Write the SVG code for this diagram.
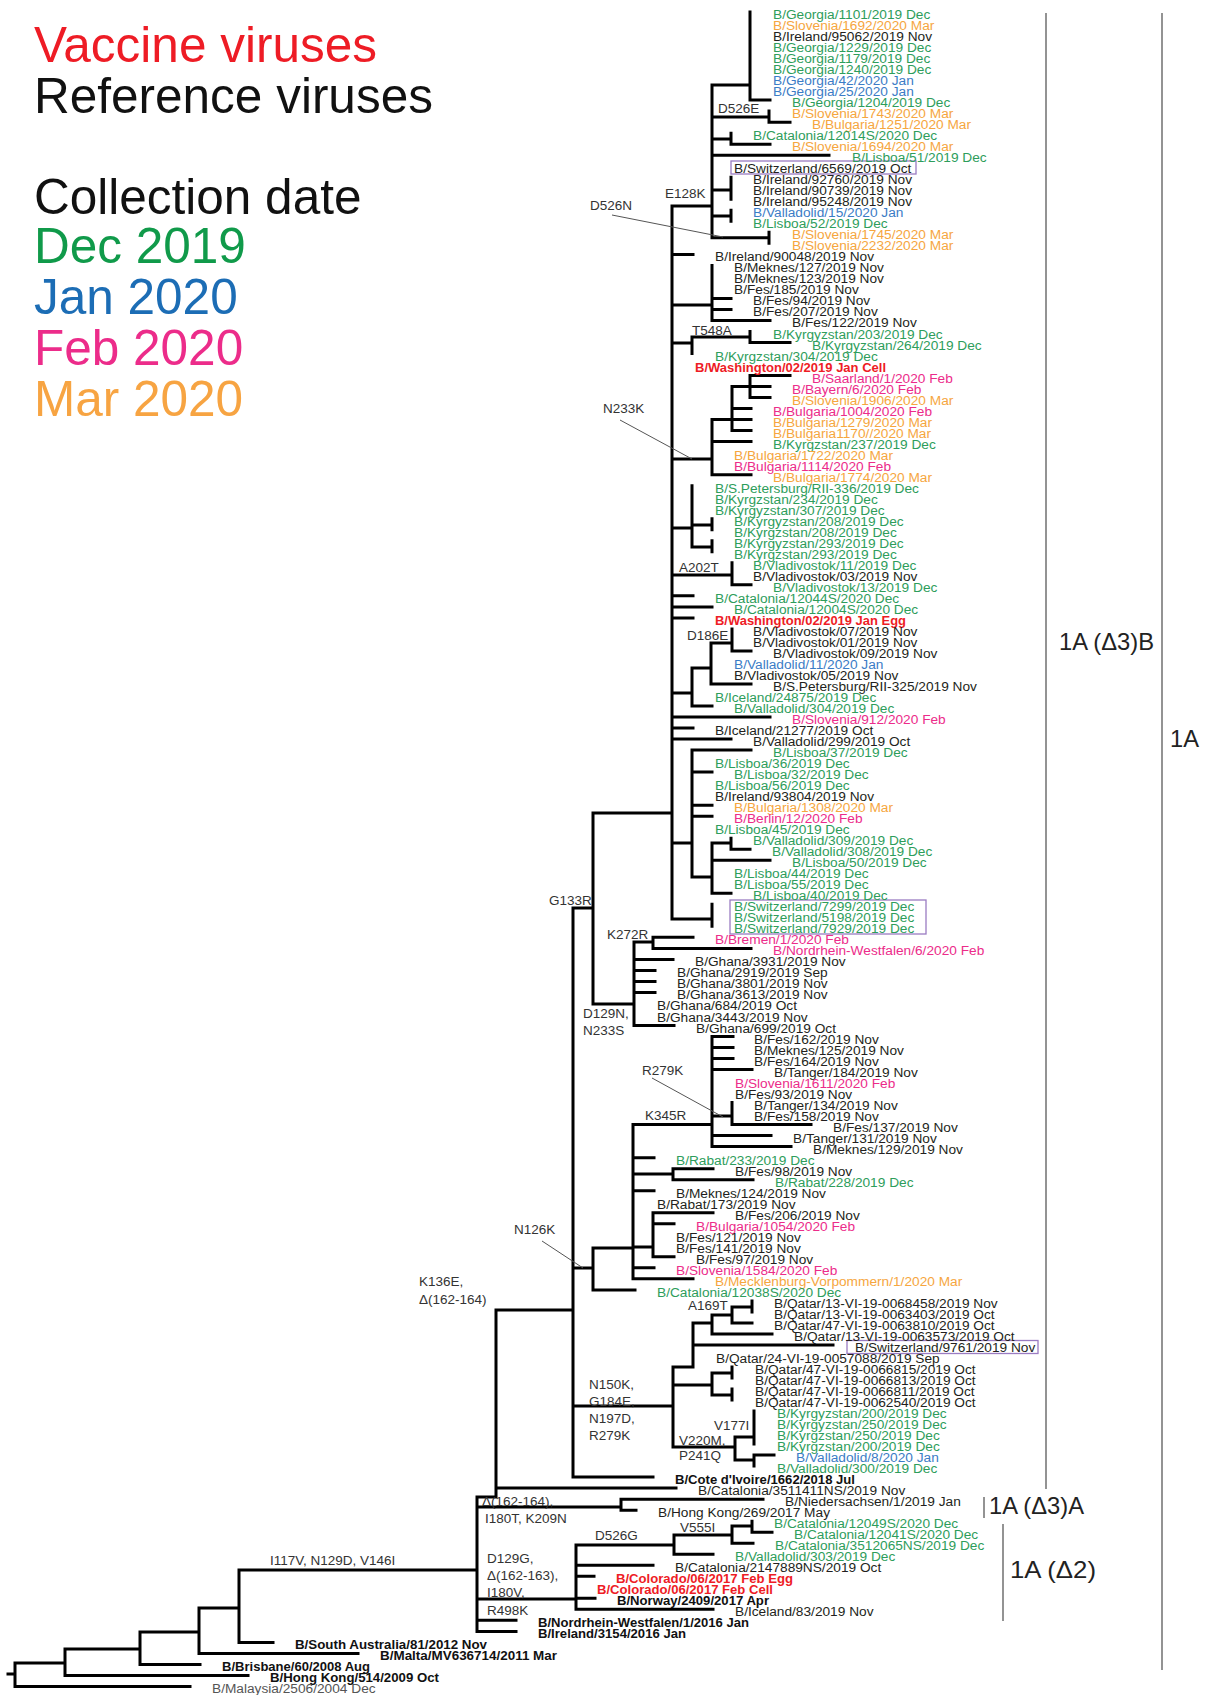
<svg xmlns="http://www.w3.org/2000/svg" width="1205" height="1695" viewBox="0 0 1205 1695">
<style>
text{font-family:"Liberation Sans",Arial,sans-serif}
.t{font-size:13.7px}
.g{fill:#2e9d5b}.o{fill:#f6a63e}.b{fill:#3b7cc6}.p{fill:#ec2c8a}.k{fill:#231f20}.gr{fill:#555}
.r{fill:#ee1c25;font-weight:bold}.kb{fill:#111;font-weight:bold}
.m{font-size:13.5px;fill:#333}
.lg{font-size:49.5px}
.br{font-size:24px;fill:#222}
.tree{fill:none;stroke:#000;stroke-width:3;stroke-linecap:square}
.ptr{stroke:#555;stroke-width:1}
.brk{stroke:#666;stroke-width:1.4}
.box{fill:none;stroke:#9a7cc2;stroke-width:1.3}
</style>
<rect width="1205" height="1695" fill="#fff"/>
<g id="legend">
<text x="34" y="62" class="lg" fill="#ee1c25">Vaccine viruses</text>
<text x="34" y="113" class="lg" fill="#111">Reference viruses</text>
<text x="34" y="214" class="lg" fill="#111">Collection date</text>
<text x="34" y="263" class="lg" fill="#109a4a">Dec 2019</text>
<text x="34" y="314" class="lg" fill="#1c6db5">Jan 2020</text>
<text x="34" y="365" class="lg" fill="#ec2c8a">Feb 2020</text>
<text x="34" y="416" class="lg" fill="#f7a442">Mar 2020</text>
</g>
<g id="connectors">
<path class="tree" d="M750 12V100.1M750 100.1H770M712 85H750M769 111.1V122.2M769 122.2H790M712 117H769M731 133.2V144.2M731 144.2H770M712 139H731M712 155.2H829M731 177.2V199.3M712 190H731M731 210.3V221.3M712 216H731M769 232.3V243.3M712 237.8H769M712 85V237.8M672 206H712
M672 206V919M672 254.4H693M712 265.4V320.4M712 298.4H731M712 309.4H731M712 320.4H770M672 305H712M750 331.5V342.5M750 342.5H790M692 337H750M692 337V353.5M672 343H692
M750 375.5V397.6M750 375.5H790M750 386.5H770M750 397.6H770M732 386.5H750M732 386.5V430.6M732 408.6H751M732 419.6H751M732 430.6H751M712 419.6H732M712 419.6V474.7M712 441.6H751M712 474.7H751M672 459H712
M692 485.7V547M712 518.7V529.8M692 525H712M712 540.8V551.8M692 547H712M672 528H692M732 562.8V584.8M732 584.8H751M672 575H732M672 595.8H693M672 606.9H712M672 617.9H693
M732 628.9V650.9M732 650.9H751M711 643H732M711 643V684M711 684H751M692 668H711M692 668V706M692 706H712M672 693H692M672 717H770M672 728H693M672 739.1H731
M692 750.1V877M692 750.1H751M692 772.1H712M692 805.2H712M692 816.2H712M672 843H692M712 843V893.3M731 838.2V849.2M731 849.2H750M712 843H731M712 860.2H770M712 893.3H731M692 877H712M712 904.3V926.3M672 919H712M593 813H672
M593 813V1004M653 937.3V948.4M653 937.3H693M653 948.4H751M634 942H653M634 942V1025.5M634 959.4H673M634 970.4H655M634 981.4H655M634 992.4H655M634 1025.5H674M593 1004H634M573 908H593
M712 1036.5V1146.6M712 1036.5H733M712 1047.5H733M712 1058.5H733M712 1069.5H752M732 1102.6V1124.6M712 1116H732M732 1124.6H811M712 1135.6H771M712 1146.6H791M633 1124.6H712
M633 1124.6V1278.8M633 1157.7H654M673 1168.7V1179.7M673 1168.7H713M673 1179.7H753M633 1174H673M633 1190.7H654M653 1212.7V1256.8M653 1212.7H713M653 1223.8H674M653 1256.8H674M633 1247H653M633 1267.8H654M633 1278.8H693M593 1248H633M593 1248V1289.9M593 1289.9H635M573 1268H593
M752 1300.9V1311.9M732 1307H752M732 1307V1322.9M732 1322.9H752M712 1315H732M712 1315V1333.9M712 1333.9H772M693 1323H712M693 1323V1367M693 1344.9H833M673 1367H693M732 1367V1378M712 1373H732M732 1389V1400M712 1395H732M712 1373V1395M673 1385H712
M754 1411V1444.1M735 1437H754M754 1455.1V1466.1M754 1455.1H774M735 1460H754M735 1437V1460M673 1447H735M673 1367V1447M573 1406H673
M573 908V1477.1M573 1477.1H653M496 1310H573M496 1310V1497M496 1488.1H676M477 1497H496
M621 1499.2V1510.2M621 1499.2H763M621 1510.2H636M477 1507H621
M752 1521.2V1532.2M752 1532.2H772M732 1526H752M732 1526V1543.2M732 1543.2H753M674 1535H732M674 1535V1554.2M674 1554.2H713M576 1545H674M576 1545V1609.3M576 1565.3H653M576 1576.3H594M576 1598.3H595M576 1609.3H713M477 1599H576
M477 1497V1631.4M477 1620.3H516M477 1631.4H516M239 1570H477M239 1570V1642.4M239 1642.4H273M199 1608H239M199 1608V1653.4M199 1653.4H358M140 1632H199M140 1632V1664.4M140 1664.4H200M65 1649H140M65 1649V1675.4M65 1675.4H248M15 1663H65M15 1663V1686.4M15 1686.4H190M8 1674H15"/>
<path class="ptr" d="M612 215L723 237M620 420L692 459M652 1078L723 1117M542 1241L583 1268"/>
</g>
<g id="mutations">
<text class="m" x="718" y="113">D526E</text>
<text class="m" x="665" y="198">E128K</text>
<text class="m" x="590" y="210">D526N</text>
<text class="m" x="692" y="335">T548A</text>
<text class="m" x="603" y="413">N233K</text>
<text class="m" x="679" y="572">A202T</text>
<text class="m" x="687" y="640">D186E</text>
<text class="m" x="549" y="905">G133R</text>
<text class="m" x="607" y="939">K272R</text>
<text class="m" x="583" y="1018">D129N,</text>
<text class="m" x="583" y="1035">N233S</text>
<text class="m" x="642" y="1075">R279K</text>
<text class="m" x="645" y="1120">K345R</text>
<text class="m" x="514" y="1234">N126K</text>
<text class="m" x="419" y="1286">K136E,</text>
<text class="m" x="419" y="1304">Δ(162-164)</text>
<text class="m" x="688" y="1310">A169T</text>
<text class="m" x="589" y="1389">N150K,</text>
<text class="m" x="589" y="1406">G184E,</text>
<text class="m" x="589" y="1423">N197D,</text>
<text class="m" x="589" y="1440">R279K</text>
<text class="m" x="714" y="1430">V177I</text>
<text class="m" x="679" y="1445">V220M,</text>
<text class="m" x="679" y="1460">P241Q</text>
<text class="m" x="482" y="1506">Δ(162-164),</text>
<text class="m" x="485" y="1523">I180T, K209N</text>
<text class="m" x="680" y="1532">V555I</text>
<text class="m" x="595" y="1540">D526G</text>
<text class="m" x="270" y="1565">I117V, N129D, V146I</text>
<text class="m" x="487" y="1563">D129G,</text>
<text class="m" x="487" y="1580">Δ(162-163),</text>
<text class="m" x="487" y="1597">I180V,</text>
<text class="m" x="487" y="1615">R498K</text>
</g>
<g id="boxes">
<rect class="box" x="731" y="161" width="185" height="13"/>
<rect class="box" x="730" y="900" width="196" height="34"/>
<rect class="box" x="847" y="1340.5" width="191" height="13"/>
</g>
<g id="clades">
<path class="brk" d="M1046 13V1489M1162 13V1670M984 1497V1518M1003 1524V1621"/>
<text class="br" x="1059" y="650" textLength="95" lengthAdjust="spacingAndGlyphs">1A (Δ3)B</text>
<text class="br" x="1170" y="747" textLength="29" lengthAdjust="spacingAndGlyphs">1A</text>
<text class="br" x="989" y="1514" textLength="95" lengthAdjust="spacingAndGlyphs">1A (Δ3)A</text>
<text class="br" x="1010" y="1578" textLength="86" lengthAdjust="spacingAndGlyphs">1A (Δ2)</text>
</g>
<g id="leaves" class="t">
<g id="n1"><text x="773" y="19" class="g">B/Georgia/1101/2019 Dec</text></g>
<g id="n2"><text x="773" y="30" class="o">B/Slovenia/1692/2020 Mar</text></g>
<g id="n3"><text x="773" y="41" class="k">B/Ireland/95062/2019 Nov</text></g>
<g id="n4"><text x="773" y="52.1" class="g">B/Georgia/1229/2019 Dec</text></g>
<g id="n5"><text x="773" y="63.1" class="g">B/Georgia/1179/2019 Dec</text></g>
<g id="n6"><text x="773" y="74.1" class="g">B/Georgia/1240/2019 Dec</text></g>
<g id="n7"><text x="773" y="85.1" class="b">B/Georgia/42/2020 Jan</text></g>
<g id="n8"><text x="773" y="96.1" class="b">B/Georgia/25/2020 Jan</text></g>
<g id="n9"><text x="792" y="107.1" class="g">B/Georgia/1204/2019 Dec</text></g>
<g id="n10"><text x="792" y="118.1" class="o">B/Slovenia/1743/2020 Mar</text></g>
<g id="n11"><text x="812" y="129.2" class="o">B/Bulgaria/1251/2020 Mar</text></g>
<g id="n12"><text x="753" y="140.2" class="g">B/Catalonia/12014S/2020 Dec</text></g>
<g id="n13"><text x="792" y="151.2" class="o">B/Slovenia/1694/2020 Mar</text></g>
<g id="n14"><text x="852" y="162.2" class="g">B/Lisboa/51/2019 Dec</text></g>
<g id="n15"><text x="734" y="173.2" class="k">B/Switzerland/6569/2019 Oct</text></g>
<g id="n16"><text x="753" y="184.2" class="k">B/Ireland/92760/2019 Nov</text></g>
<g id="n17"><text x="753" y="195.3" class="k">B/Ireland/90739/2019 Nov</text></g>
<g id="n18"><text x="753" y="206.3" class="k">B/Ireland/95248/2019 Nov</text></g>
<g id="n19"><text x="753" y="217.3" class="b">B/Valladolid/15/2020 Jan</text></g>
<g id="n20"><text x="753" y="228.3" class="g">B/Lisboa/52/2019 Dec</text></g>
<g id="n21"><text x="792" y="239.3" class="o">B/Slovenia/1745/2020 Mar</text></g>
<g id="n22"><text x="792" y="250.3" class="o">B/Slovenia/2232/2020 Mar</text></g>
<g id="n23"><text x="715" y="261.4" class="k">B/Ireland/90048/2019 Nov</text></g>
<g id="n24"><text x="734" y="272.4" class="k">B/Meknes/127/2019 Nov</text></g>
<g id="n25"><text x="734" y="283.4" class="k">B/Meknes/123/2019 Nov</text></g>
<g id="n26"><text x="734" y="294.4" class="k">B/Fes/185/2019 Nov</text></g>
<g id="n27"><text x="753" y="305.4" class="k">B/Fes/94/2019 Nov</text></g>
<g id="n28"><text x="753" y="316.4" class="k">B/Fes/207/2019 Nov</text></g>
<g id="n29"><text x="792" y="327.4" class="k">B/Fes/122/2019 Nov</text></g>
<g id="n30"><text x="773" y="338.5" class="g">B/Kyrgyzstan/203/2019 Dec</text></g>
<g id="n31"><text x="812" y="349.5" class="g">B/Kyrgyzstan/264/2019 Dec</text></g>
<g id="n32"><text x="715" y="360.5" class="g">B/Kyrgzstan/304/2019 Dec</text></g>
<g id="n33"><text x="695" y="371.5" class="r" textLength="191" lengthAdjust="spacingAndGlyphs">B/Washington/02/2019 Jan Cell</text></g>
<g id="n34"><text x="812" y="382.5" class="p">B/Saarland/1/2020 Feb</text></g>
<g id="n35"><text x="792" y="393.5" class="p">B/Bayern/6/2020 Feb</text></g>
<g id="n36"><text x="792" y="404.6" class="o">B/Slovenia/1906/2020 Mar</text></g>
<g id="n37"><text x="773" y="415.6" class="p">B/Bulgaria/1004/2020 Feb</text></g>
<g id="n38"><text x="773" y="426.6" class="o">B/Bulgaria/1279/2020 Mar</text></g>
<g id="n39"><text x="773" y="437.6" class="o">B/Bulgaria1170//2020 Mar</text></g>
<g id="n40"><text x="773" y="448.6" class="g">B/Kyrgzstan/237/2019 Dec</text></g>
<g id="n41"><text x="734" y="459.6" class="o">B/Bulgaria/1722/2020 Mar</text></g>
<g id="n42"><text x="734" y="470.7" class="p">B/Bulgaria/1114/2020 Feb</text></g>
<g id="n43"><text x="773" y="481.7" class="o">B/Bulgaria/1774/2020 Mar</text></g>
<g id="n44"><text x="715" y="492.7" class="g">B/S.Petersburg/RII-336/2019 Dec</text></g>
<g id="n45"><text x="715" y="503.7" class="g">B/Kyrgzstan/234/2019 Dec</text></g>
<g id="n46"><text x="715" y="514.7" class="g">B/Kyrgyzstan/307/2019 Dec</text></g>
<g id="n47"><text x="734" y="525.7" class="g">B/Kyrgyzstan/208/2019 Dec</text></g>
<g id="n48"><text x="734" y="536.8" class="g">B/Kyrgzstan/208/2019 Dec</text></g>
<g id="n49"><text x="734" y="547.8" class="g">B/Kyrgyzstan/293/2019 Dec</text></g>
<g id="n50"><text x="734" y="558.8" class="g">B/Kyrgzstan/293/2019 Dec</text></g>
<g id="n51"><text x="753" y="569.8" class="g">B/Vladivostok/11/2019 Dec</text></g>
<g id="n52"><text x="753" y="580.8" class="k">B/Vladivostok/03/2019 Nov</text></g>
<g id="n53"><text x="773" y="591.8" class="g">B/Vladivostok/13/2019 Dec</text></g>
<g id="n54"><text x="715" y="602.8" class="g">B/Catalonia/12044S/2020 Dec</text></g>
<g id="n55"><text x="734" y="613.9" class="g">B/Catalonia/12004S/2020 Dec</text></g>
<g id="n56"><text x="715" y="624.9" class="r" textLength="191" lengthAdjust="spacingAndGlyphs">B/Washington/02/2019 Jan Egg</text></g>
<g id="n57"><text x="753" y="635.9" class="k">B/Vladivostok/07/2019 Nov</text></g>
<g id="n58"><text x="753" y="646.9" class="k">B/Vladivostok/01/2019 Nov</text></g>
<g id="n59"><text x="773" y="657.9" class="k">B/Vladivostok/09/2019 Nov</text></g>
<g id="n60"><text x="734" y="668.9" class="b">B/Valladolid/11/2020 Jan</text></g>
<g id="n61"><text x="734" y="680" class="k">B/Vladivostok/05/2019 Nov</text></g>
<g id="n62"><text x="773" y="691" class="k">B/S.Petersburg/RII-325/2019 Nov</text></g>
<g id="n63"><text x="715" y="702" class="g">B/Iceland/24875/2019 Dec</text></g>
<g id="n64"><text x="734" y="713" class="g">B/Valladolid/304/2019 Dec</text></g>
<g id="n65"><text x="792" y="724" class="p">B/Slovenia/912/2020 Feb</text></g>
<g id="n66"><text x="715" y="735" class="k">B/Iceland/21277/2019 Oct</text></g>
<g id="n67"><text x="753" y="746.1" class="k">B/Valladolid/299/2019 Oct</text></g>
<g id="n68"><text x="773" y="757.1" class="g">B/Lisboa/37/2019 Dec</text></g>
<g id="n69"><text x="715" y="768.1" class="g">B/Lisboa/36/2019 Dec</text></g>
<g id="n70"><text x="734" y="779.1" class="g">B/Lisboa/32/2019 Dec</text></g>
<g id="n71"><text x="715" y="790.1" class="g">B/Lisboa/56/2019 Dec</text></g>
<g id="n72"><text x="715" y="801.1" class="k">B/Ireland/93804/2019 Nov</text></g>
<g id="n73"><text x="734" y="812.2" class="o">B/Bulgaria/1308/2020 Mar</text></g>
<g id="n74"><text x="734" y="823.2" class="p">B/Berlin/12/2020 Feb</text></g>
<g id="n75"><text x="715" y="834.2" class="g">B/Lisboa/45/2019 Dec</text></g>
<g id="n76"><text x="753" y="845.2" class="g">B/Valladolid/309/2019 Dec</text></g>
<g id="n77"><text x="772" y="856.2" class="g">B/Valladolid/308/2019 Dec</text></g>
<g id="n78"><text x="792" y="867.2" class="g">B/Lisboa/50/2019 Dec</text></g>
<g id="n79"><text x="734" y="878.2" class="g">B/Lisboa/44/2019 Dec</text></g>
<g id="n80"><text x="734" y="889.3" class="g">B/Lisboa/55/2019 Dec</text></g>
<g id="n81"><text x="753" y="900.3" class="g">B/Lisboa/40/2019 Dec</text></g>
<g id="n82"><text x="734" y="911.3" class="g">B/Switzerland/7299/2019 Dec</text></g>
<g id="n83"><text x="734" y="922.3" class="g">B/Switzerland/5198/2019 Dec</text></g>
<g id="n84"><text x="734" y="933.3" class="g">B/Switzerland/7929/2019 Dec</text></g>
<g id="n85"><text x="715" y="944.3" class="p">B/Bremen/1/2020 Feb</text></g>
<g id="n86"><text x="773" y="955.4" class="p">B/Nordrhein-Westfalen/6/2020 Feb</text></g>
<g id="n87"><text x="695" y="966.4" class="k">B/Ghana/3931/2019 Nov</text></g>
<g id="n88"><text x="677" y="977.4" class="k">B/Ghana/2919/2019 Sep</text></g>
<g id="n89"><text x="677" y="988.4" class="k">B/Ghana/3801/2019 Nov</text></g>
<g id="n90"><text x="677" y="999.4" class="k">B/Ghana/3613/2019 Nov</text></g>
<g id="n91"><text x="657" y="1010.4" class="k">B/Ghana/684/2019 Oct</text></g>
<g id="n92"><text x="657" y="1021.5" class="k">B/Ghana/3443/2019 Nov</text></g>
<g id="n93"><text x="696" y="1032.5" class="k">B/Ghana/699/2019 Oct</text></g>
<g id="n94"><text x="754" y="1043.5" class="k">B/Fes/162/2019 Nov</text></g>
<g id="n95"><text x="754" y="1054.5" class="k">B/Meknes/125/2019 Nov</text></g>
<g id="n96"><text x="754" y="1065.5" class="k">B/Fes/164/2019 Nov</text></g>
<g id="n97"><text x="774" y="1076.5" class="k">B/Tanger/184/2019 Nov</text></g>
<g id="n98"><text x="735" y="1087.6" class="p">B/Slovenia/1611/2020 Feb</text></g>
<g id="n99"><text x="735" y="1098.6" class="k">B/Fes/93/2019 Nov</text></g>
<g id="n100"><text x="754" y="1109.6" class="k">B/Tanger/134/2019 Nov</text></g>
<g id="n101"><text x="754" y="1120.6" class="k">B/Fes/158/2019 Nov</text></g>
<g id="n102"><text x="833" y="1131.6" class="k">B/Fes/137/2019 Nov</text></g>
<g id="n103"><text x="793" y="1142.6" class="k">B/Tanger/131/2019 Nov</text></g>
<g id="n104"><text x="813" y="1153.6" class="k">B/Meknes/129/2019 Nov</text></g>
<g id="n105"><text x="676" y="1164.7" class="g">B/Rabat/233/2019 Dec</text></g>
<g id="n106"><text x="735" y="1175.7" class="k">B/Fes/98/2019 Nov</text></g>
<g id="n107"><text x="775" y="1186.7" class="g">B/Rabat/228/2019 Dec</text></g>
<g id="n108"><text x="676" y="1197.7" class="k">B/Meknes/124/2019 Nov</text></g>
<g id="n109"><text x="657" y="1208.7" class="k">B/Rabat/173/2019 Nov</text></g>
<g id="n110"><text x="735" y="1219.7" class="k">B/Fes/206/2019 Nov</text></g>
<g id="n111"><text x="696" y="1230.8" class="p">B/Bulgaria/1054/2020 Feb</text></g>
<g id="n112"><text x="676" y="1241.8" class="k">B/Fes/121/2019 Nov</text></g>
<g id="n113"><text x="676" y="1252.8" class="k">B/Fes/141/2019 Nov</text></g>
<g id="n114"><text x="696" y="1263.8" class="k">B/Fes/97/2019 Nov</text></g>
<g id="n115"><text x="676" y="1274.8" class="p">B/Slovenia/1584/2020 Feb</text></g>
<g id="n116"><text x="715" y="1285.8" class="o">B/Mecklenburg-Vorpommern/1/2020 Mar</text></g>
<g id="n117"><text x="657" y="1296.9" class="g">B/Catalonia/12038S/2020 Dec</text></g>
<g id="n118"><text x="774" y="1307.9" class="k">B/Qatar/13-VI-19-0068458/2019 Nov</text></g>
<g id="n119"><text x="774" y="1318.9" class="k">B/Qatar/13-VI-19-0063403/2019 Oct</text></g>
<g id="n120"><text x="774" y="1329.9" class="k">B/Qatar/47-VI-19-0063810/2019 Oct</text></g>
<g id="n121"><text x="794" y="1340.9" class="k">B/Qatar/13-VI-19-0063573/2019 Oct</text></g>
<g id="n122"><text x="855" y="1351.9" class="k">B/Switzerland/9761/2019 Nov</text></g>
<g id="n123"><text x="716" y="1363" class="k">B/Qatar/24-VI-19-0057088/2019 Sep</text></g>
<g id="n124"><text x="755" y="1374" class="k">B/Qatar/47-VI-19-0066815/2019 Oct</text></g>
<g id="n125"><text x="755" y="1385" class="k">B/Qatar/47-VI-19-0066813/2019 Oct</text></g>
<g id="n126"><text x="755" y="1396" class="k">B/Qatar/47-VI-19-0066811/2019 Oct</text></g>
<g id="n127"><text x="755" y="1407" class="k">B/Qatar/47-VI-19-0062540/2019 Oct</text></g>
<g id="n128"><text x="777" y="1418" class="g">B/Kyrgyzstan/200/2019 Dec</text></g>
<g id="n129"><text x="777" y="1429" class="g">B/Kyrgyzstan/250/2019 Dec</text></g>
<g id="n130"><text x="777" y="1440.1" class="g">B/Kyrgzstan/250/2019 Dec</text></g>
<g id="n131"><text x="777" y="1451.1" class="g">B/Kyrgzstan/200/2019 Dec</text></g>
<g id="n132"><text x="796" y="1462.1" class="b">B/Valladolid/8/2020 Jan</text></g>
<g id="n133"><text x="777" y="1473.1" class="g">B/Valladolid/300/2019 Dec</text></g>
<g id="n134"><text x="675" y="1484.1" class="kb" textLength="180" lengthAdjust="spacingAndGlyphs">B/Cote d'Ivoire/1662/2018 Jul</text></g>
<g id="n135"><text x="698" y="1495.1" class="k">B/Catalonia/3511411NS/2019 Nov</text></g>
<g id="n136"><text x="785" y="1506.2" class="k">B/Niedersachsen/1/2019 Jan</text></g>
<g id="n137"><text x="658" y="1517.2" class="k">B/Hong Kong/269/2017 May</text></g>
<g id="n138"><text x="774" y="1528.2" class="g">B/Catalonia/12049S/2020 Dec</text></g>
<g id="n139"><text x="794" y="1539.2" class="g">B/Catalonia/12041S/2020 Dec</text></g>
<g id="n140"><text x="775" y="1550.2" class="g">B/Catalonia/3512065NS/2019 Dec</text></g>
<g id="n141"><text x="735" y="1561.2" class="g">B/Valladolid/303/2019 Dec</text></g>
<g id="n142"><text x="675" y="1572.3" class="k">B/Catalonia/2147889NS/2019 Oct</text></g>
<g id="n143"><text x="616" y="1583.3" class="r" textLength="177" lengthAdjust="spacingAndGlyphs">B/Colorado/06/2017 Feb Egg</text></g>
<g id="n144"><text x="597" y="1594.3" class="r" textLength="176" lengthAdjust="spacingAndGlyphs">B/Colorado/06/2017 Feb Cell</text></g>
<g id="n145"><text x="617" y="1605.3" class="kb" textLength="152" lengthAdjust="spacingAndGlyphs">B/Norway/2409/2017 Apr</text></g>
<g id="n146"><text x="735" y="1616.3" class="k">B/Iceland/83/2019 Nov</text></g>
<g id="n147"><text x="538" y="1627.4" class="kb" textLength="211" lengthAdjust="spacingAndGlyphs">B/Nordrhein-Westfalen/1/2016 Jan</text></g>
<g id="n148"><text x="538" y="1638.4" class="kb" textLength="148" lengthAdjust="spacingAndGlyphs">B/Ireland/3154/2016 Jan</text></g>
<g id="n149"><text x="295" y="1649.4" class="kb" textLength="192" lengthAdjust="spacingAndGlyphs">B/South Australia/81/2012 Nov</text></g>
<g id="n150"><text x="380" y="1660.4" class="kb" textLength="177" lengthAdjust="spacingAndGlyphs">B/Malta/MV636714/2011 Mar</text></g>
<g id="n151"><text x="222" y="1671.4" class="kb" textLength="148" lengthAdjust="spacingAndGlyphs">B/Brisbane/60/2008 Aug</text></g>
<g id="n152"><text x="270" y="1682.4" class="kb" textLength="169" lengthAdjust="spacingAndGlyphs">B/Hong Kong/514/2009 Oct</text></g>
<g id="n153"><text x="212" y="1693.4" class="gr">B/Malaysia/2506/2004 Dec</text></g>
</g>
</svg>
